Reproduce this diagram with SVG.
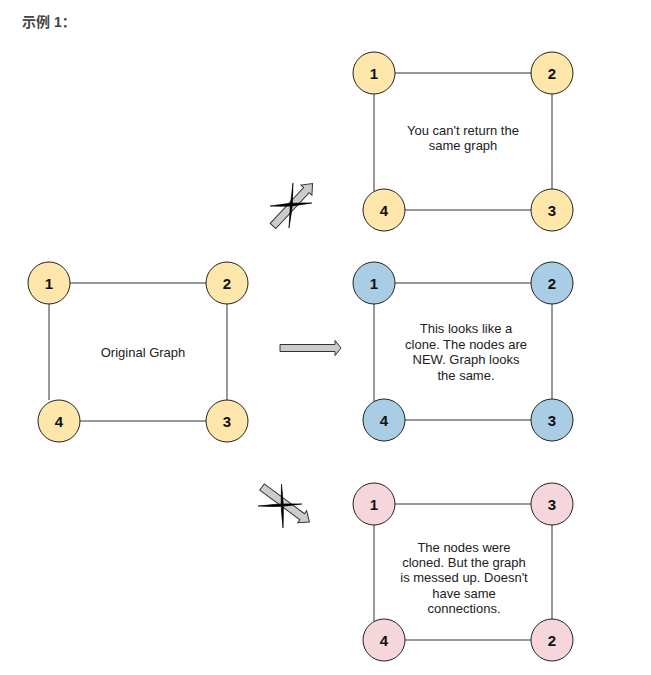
<svg xmlns="http://www.w3.org/2000/svg" width="651" height="675" viewBox="0 0 651 675">
<style>
.edge{stroke:#333;stroke-width:1;fill:none}
.n{stroke:#222;stroke-width:1}
.y{fill:#ffe6aa}
.b{fill:#a9cde5}
.p{fill:#f5d6da}
.lbl{font-family:"Liberation Sans",Arial,sans-serif;font-size:15px;font-weight:bold;fill:#111;text-anchor:middle;dominant-baseline:central}
.txt{font-family:"Liberation Sans",Arial,sans-serif;font-size:13px;fill:#222;text-anchor:middle}
.arrow{fill:#cccccc;stroke:#333;stroke-width:1;stroke-linejoin:miter}
.cross{fill:#000;stroke:#000;stroke-width:0.6}
</style>
<rect width="651" height="675" fill="#fff"/>
<text x="22" y="27" font-family="'Liberation Sans','Noto Sans CJK SC',sans-serif" font-size="14" font-weight="bold" fill="#444">示例 1：</text>

<g id="connectors">
  <line class="edge" x1="49" y1="283" x2="227" y2="283"/>
  <line class="edge" x1="49" y1="283" x2="49" y2="400"/>
  <line class="edge" x1="227" y1="283" x2="227" y2="421"/>
  <line class="edge" x1="59" y1="421" x2="227" y2="421"/>
  <line class="edge" x1="374" y1="73" x2="552" y2="73"/>
  <line class="edge" x1="374" y1="73" x2="374" y2="191"/>
  <line class="edge" x1="552" y1="73" x2="552" y2="210"/>
  <line class="edge" x1="384" y1="210" x2="552" y2="210"/>
  <line class="edge" x1="374" y1="283" x2="552" y2="283"/>
  <line class="edge" x1="374" y1="283" x2="374" y2="401"/>
  <line class="edge" x1="552" y1="283" x2="552" y2="420"/>
  <line class="edge" x1="384" y1="420" x2="552" y2="420"/>
  <line class="edge" x1="374" y1="504" x2="552" y2="504"/>
  <line class="edge" x1="374" y1="504" x2="374" y2="621"/>
  <line class="edge" x1="552" y1="504" x2="552" y2="640"/>
  <line class="edge" x1="384" y1="640" x2="552" y2="640"/>
</g>

<g id="original">
  <g id="o1"><circle class="n y" cx="49" cy="283" r="21"/><text class="lbl" x="49" y="283">1</text></g>
  <g id="o2"><circle class="n y" cx="227" cy="283" r="21"/><text class="lbl" x="227" y="283">2</text></g>
  <g id="o4"><circle class="n y" cx="59" cy="421" r="21"/><text class="lbl" x="59" y="421">4</text></g>
  <g id="o3"><circle class="n y" cx="227" cy="421" r="21"/><text class="lbl" x="227" y="421">3</text></g>
  <text class="txt" x="143" y="357">Original Graph</text>
</g>

<g id="top">
  <g id="t1"><circle class="n y" cx="374" cy="73" r="21"/><text class="lbl" x="374" y="73">1</text></g>
  <g id="t2"><circle class="n y" cx="552" cy="73" r="21"/><text class="lbl" x="552" y="73">2</text></g>
  <g id="t4"><circle class="n y" cx="384" cy="210" r="21"/><text class="lbl" x="384" y="210">4</text></g>
  <g id="t3"><circle class="n y" cx="552" cy="210" r="21"/><text class="lbl" x="552" y="210">3</text></g>
  <text class="txt" x="463" y="135">You can't return the</text>
  <text class="txt" x="463" y="150">same graph</text>
</g>

<g id="middle">
  <g id="m1"><circle class="n b" cx="374" cy="283" r="21"/><text class="lbl" x="374" y="283">1</text></g>
  <g id="m2"><circle class="n b" cx="552" cy="283" r="21"/><text class="lbl" x="552" y="283">2</text></g>
  <g id="m4"><circle class="n b" cx="384" cy="420" r="21"/><text class="lbl" x="384" y="420">4</text></g>
  <g id="m3"><circle class="n b" cx="552" cy="420" r="21"/><text class="lbl" x="552" y="420">3</text></g>
  <text class="txt" x="466" y="333">This looks like a</text>
  <text class="txt" x="466" y="349">clone. The nodes are</text>
  <text class="txt" x="466" y="364">NEW. Graph looks</text>
  <text class="txt" x="466" y="380">the same.</text>
</g>

<g id="bottom">
  <g id="b1"><circle class="n p" cx="374" cy="504" r="21"/><text class="lbl" x="374" y="504">1</text></g>
  <g id="b3"><circle class="n p" cx="552" cy="504" r="21"/><text class="lbl" x="552" y="504">3</text></g>
  <g id="b4"><circle class="n p" cx="384" cy="640" r="21"/><text class="lbl" x="384" y="640">4</text></g>
  <g id="b2"><circle class="n p" cx="552" cy="640" r="21"/><text class="lbl" x="552" y="640">2</text></g>
  <text class="txt" x="464" y="552">The nodes were</text>
  <text class="txt" x="464" y="567">cloned. But the graph</text>
  <text class="txt" x="464" y="582">is messed up. Doesn't</text>
  <text class="txt" x="464" y="598">have same</text>
  <text class="txt" x="464" y="613">connections.</text>
</g>

<g id="arrows">
  <path class="arrow" d="M280,344.5 H335 V340.5 L341,348 L335,355.5 V351.5 H280 Z"/>
  <path class="arrow" transform="translate(273,226) rotate(-47)" d="M0,-3.8 H49 V-7.5 L58,0 L49,7.5 V3.8 H0 Z"/>
  <path class="cross" d="M270,206 Q291,202 312,203 Q291,207.5 270,206 Z"/>
  <path class="cross" d="M293,183 Q289.5,206 289,228 Q293.5,206 293,183 Z"/>
  <path class="arrow" transform="translate(262,487) rotate(36.5)" d="M0,-3.8 H50 V-7.5 L59,0 L50,7.5 V3.8 H0 Z"/>
  <path class="cross" d="M258,506 Q280,503 302,504 Q280,508 258,506 Z"/>
  <path class="cross" d="M281.5,484 Q280,506 283,528 Q284.5,506 281.5,484 Z"/>
</g>
</svg>
